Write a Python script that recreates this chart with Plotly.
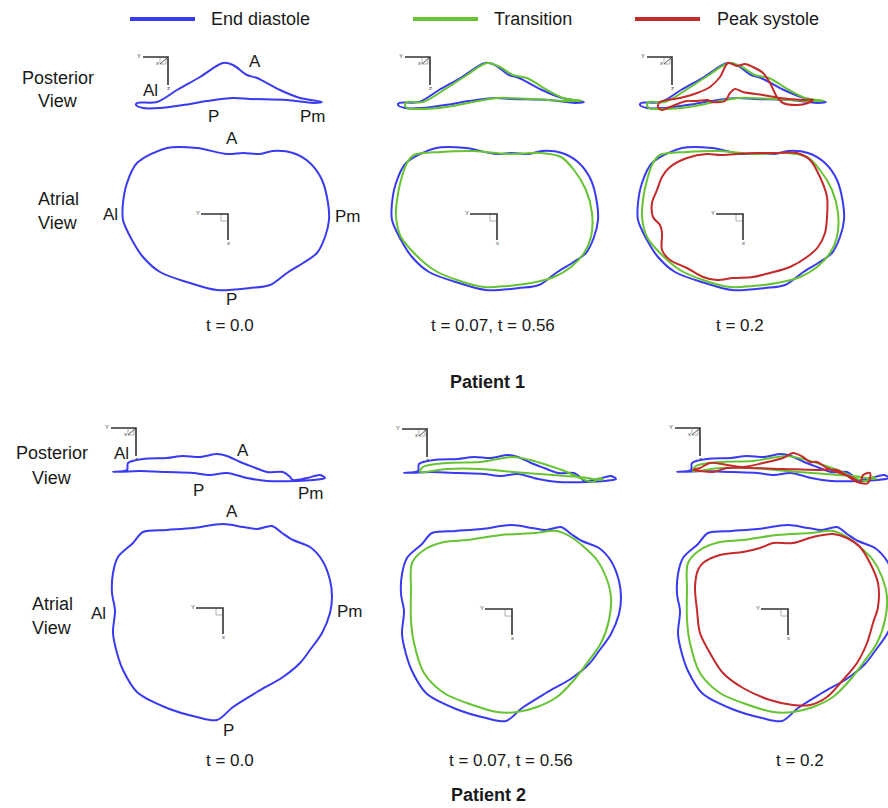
import plotly.graph_objects as go

W, H = 888, 808

# ---------------- text / categories ----------------
series_names = ["End diastole", "Transition", "Peak systole"]
time_labels = ["t = 0.0", "t = 0.07, t = 0.56", "t = 0.2"]
patient_labels = ["Patient 1", "Patient 2"]
view_names = [["Posterior", "View"], ["Atrial", "View"]]
landmark_names = ["A", "P", "Al", "Pm"]

# ---------------- contour data ----------------
# local coordinates relative to each panel's small axis-icon corner, y pointing down
# Patient 1 - posterior view
p1_post_ed_u = [-31, -11, 9, 32, 55, 65, 79, 89, 112, 132, 154, 145, 119, 82, 65, 39, 15, -8, -25, -32]
p1_post_ed_v = [46, 45, 33, 20, 6, 8, 18, 21, 33, 41, 45, 46, 43, 42, 41, 44, 48, 51, 51, 48]
p1_post_tr_u = [-23, -7, 17, 37, 57, 70, 83, 97, 117, 133, 152, 137, 100, 67, 43, 17, -10, -23, -25]
p1_post_tr_v = [45, 45, 31, 18, 6, 10, 18, 21, 33, 41, 44, 44, 42, 41, 45, 50, 52, 51, 47]
p1_post_ps_u = [-12, 8, 25, 38, 48, 56, 65, 73, 81, 91, 98, 105, 111, 125, 136, 141, 131, 108, 91, 71,
                63, 58, 53, 41, 35, 25, 15, 8, -2, -10, -14]
p1_post_ps_v = [45, 41, 36, 30, 20, 6, 9, 7, 10, 16, 26, 40, 46, 48, 46, 43, 43, 41, 38, 35,
                32, 36, 44, 45, 43, 44, 44, 46, 50, 53, 50]
# Patient 1 - atrial view
p1_atr_ed_u = [-91, -61, -31, -1, 15, 32, 45, 65, 82, 94, 100, 101, 97, 89, 75, 59, 42, 22, -11, -38,
               -68, -85, -96, -105, -105, -101]
p1_atr_ed_v = [-51, -66, -66, -60, -61, -60, -63, -61, -51, -34, -11, 6, 23, 39, 49, 59, 71, 74, 76, 69,
               58, 43, 26, 6, -11, -31]
p1_atr_tr_u = [-83, -56, -23, 10, 44, 64, 77, 89, 95, 94, 87, 74, 57, 34, 10, -13, -40, -63, -83, -96,
               -101, -100, -96, -90]
p1_atr_tr_v = [-59, -62, -63, -60, -61, -57, -44, -24, -1, 23, 39, 53, 63, 69, 72, 73, 66, 56, 39, 23,
               3, -14, -34, -51]
p1_atr_ps_u = [-73, -56, -36, -23, -6, 17, 34, 54, 67, 77, 84, 84, 82, 75, 64, 47, 27, 10, -10, -26,
               -40, -56, -73, -81, -81, -83, -90, -91, -86, -81]
p1_atr_ps_v = [-47, -56, -60, -59, -60, -61, -61, -61, -54, -37, -17, 3, 19, 33, 43, 53, 59, 63, 64, 66,
               63, 54, 46, 36, 19, 11, 3, -11, -24, -37]
# Patient 2 - posterior view
p2_post_ed_u = [-23, -9, -8, 7, 31, 47, 64, 81, 91, 104, 117, 131, 147, 154, 157, 171, 184, 189, 177, 161,
                131, 111, 91, 74, 57, 31, 4]
p2_post_ed_v = [44, 42, 35, 31, 30, 28, 29, 26, 28, 34, 39, 44, 44, 49, 52, 50, 47, 50, 52, 53,
                53, 50, 45, 47, 45, 44, 43]
p2_post_tr_u = [-7, -4, 20, 53, 86, 103, 120, 140, 153, 166, 173, 176, 153, 126, 86, 53, 20]
p2_post_tr_v = [43, 38, 34, 33, 28, 31, 36, 43, 49, 53, 49, 51, 48, 46, 43, 40, 40]
p2_post_ps_u = [-7, 0, 10, 27, 43, 63, 83, 93, 103, 110, 117, 127, 140, 153, 160, 163, 170, 168, 157, 137,
                117, 83, 50, 27, 13, 0]
p2_post_ps_v = [42, 40, 35, 37, 39, 35, 30, 25, 29, 34, 34, 40, 45, 50, 55, 47, 45, 55, 54, 42,
                42, 41, 40, 40, 44, 43]
# Patient 2 - atrial view
p2_atr_ed_u = [-80, -56, -30, 0, 20, 34, 49, 59, 70, 87, 99, 107, 109, 107, 99, 87, 77, 60, 34, 10,
               -6, -26, -56, -86, -100, -106, -110, -108, -111, -110, -105, -90]
p2_atr_ed_v = [-76, -78, -80, -84, -81, -79, -82, -75, -68, -61, -48, -28, -11, 5, 25, 42, 55, 69, 84, 99,
               112, 109, 100, 84, 62, 45, 25, 2, -15, -35, -51, -65]
p2_atr_tr_u = [-68, -45, -11, 22, 45, 59, 72, 85, 94, 99, 97, 89, 75, 62, 45, 25, 5, -15, -45, -68,
               -88, -98, -101, -101, -100, -88]
p2_atr_tr_v = [-67, -69, -74, -76, -78, -72, -62, -49, -32, -12, 11, 34, 54, 71, 88, 98, 103, 103, 94, 84,
               64, 34, 11, -19, -46, -59]
p2_atr_ps_u = [-85, -68, -45, -28, -15, 5, 25, 45, 59, 72, 82, 90, 90, 85, 79, 69, 55, 39, 22, 5,
               -18, -45, -65, -78, -88, -91, -93, -90]
p2_atr_ps_v = [-46, -54, -57, -61, -66, -66, -72, -75, -71, -62, -46, -26, -2, 14, 34, 54, 71, 88, 96, 96,
               91, 79, 64, 44, 24, 1, -22, -39]

contours = {
    (0, 0): [(p1_post_ed_u, p1_post_ed_v), (p1_post_tr_u, p1_post_tr_v), (p1_post_ps_u, p1_post_ps_v)],
    (0, 1): [(p1_atr_ed_u, p1_atr_ed_v), (p1_atr_tr_u, p1_atr_tr_v), (p1_atr_ps_u, p1_atr_ps_v)],
    (1, 0): [(p2_post_ed_u, p2_post_ed_v), (p2_post_tr_u, p2_post_tr_v), (p2_post_ps_u, p2_post_ps_v)],
    (1, 1): [(p2_atr_ed_u, p2_atr_ed_v), (p2_atr_tr_u, p2_atr_tr_v), (p2_atr_ps_u, p2_atr_ps_v)],
}

# ---------------- layout / style ----------------
colors = ["#3a3af2", "#66c433", "#c42a2a"]
FONT = "Liberation Sans, Arial, sans-serif"
TXT = "#1a1a1a"

# panel geometry in pixels: (patient, view) -> list per column of (corner_x, corner_y, x0, x1, y0, y1)
panel_geo = {
    (0, 0): [(168, 57, 100, 350, 40, 125), (430, 57, 380, 630, 40, 125), (672, 57, 630, 888, 40, 125)],
    (0, 1): [(228, 214, 100, 355, 132, 305), (497, 214, 365, 625, 132, 305), (743, 214, 625, 888, 132, 305)],
    (1, 0): [(136, 428, 95, 355, 412, 502), (427, 429, 380, 640, 412, 502), (700, 428, 650, 888, 412, 502)],
    (1, 1): [(223, 608, 95, 355, 505, 740), (512, 609, 380, 650, 505, 740), (788, 609, 660, 888, 505, 740)],
}

landmark_pos = {
    (0, 0): [(255, 62), (213, 116), (150, 91), (313, 116)],
    (0, 1): [(232, 138), (231, 299), (110, 214), (348, 216)],
    (1, 0): [(243, 450), (198, 490), (121, 453), (311, 493)],
    (1, 1): [(232, 511), (228, 730), (98, 613), (350, 611)],
}
view_label_pos = {(0, 0): (58, 78, 101), (0, 1): (58, 199, 223), (1, 0): (52, 453, 478), (1, 1): (52, 604, 628)}
time_label_pos = [[(230, 325), (493, 325), (740, 325)], [(230, 760), (511, 760), (800, 760)]]
patient_label_pos = [(487, 382), (488, 795)]
legend_geo = [(130, 195, 209), (413, 478, 492), (635, 700, 715)]
LEGEND_Y = 19

fig = go.Figure()
annotations = []
shapes = []
layout_axes = {}


def paper_ann(text, px, py, size=17, bold=False, xanchor="center"):
    annotations.append(dict(
        text=f"<b>{text}</b>" if bold else text, x=px / W, y=1 - py / H, xref="paper", yref="paper",
        showarrow=False, xanchor=xanchor, yanchor="middle",
        font=dict(family=FONT, size=size, color=TXT)))


ax_n = 0
for (pat, view), cols in panel_geo.items():
    for col, (cx, cy, x0, x1, y0, y1) in enumerate(cols):
        ax_n += 1
        sfx = "" if ax_n == 1 else str(ax_n)
        layout_axes[f"xaxis{sfx}"] = dict(domain=[x0 / W, x1 / W], range=[x0 - cx, x1 - cx],
                                          visible=False, fixedrange=True)
        layout_axes[f"yaxis{sfx}"] = dict(domain=[1 - y1 / H, 1 - y0 / H], range=[y1 - cy, y0 - cy],
                                          visible=False, fixedrange=True)
        xr, yr = f"x{sfx}", f"y{sfx}"
        # small coordinate icon
        if view == 0:
            arm_x, arm_y = [-25, 0, 0], [0, 0, 28]
            fig.add_trace(go.Scatter(x=[-8, -8, -2, -2], y=[1, 7, 7, 1], mode="lines",
                                     line=dict(color="#b0b0b0", width=1), xaxis=xr, yaxis=yr,
                                     showlegend=False, hoverinfo="skip"))
            fig.add_trace(go.Scatter(x=[0, -8], y=[0, 7], mode="lines", line=dict(color="#555", width=1),
                                     xaxis=xr, yaxis=yr, showlegend=False, hoverinfo="skip"))
            icon_labels = [("Y", -29, -1), ("z", 0, 31), ("x", -11, 6)]
        else:
            arm_x, arm_y = [-27, 0, 0], [0, 0, 26]
            fig.add_trace(go.Scatter(x=[-7, -7, 0], y=[0, 7, 7], mode="lines",
                                     line=dict(color="#b0b0b0", width=1), xaxis=xr, yaxis=yr,
                                     showlegend=False, hoverinfo="skip"))
            icon_labels = [("Y", -30, -1), ("x", 0, 29)]
        fig.add_trace(go.Scatter(x=arm_x, y=arm_y, mode="lines", line=dict(color="#333", width=1.6),
                                 xaxis=xr, yaxis=yr, showlegend=False, hoverinfo="skip"))
        for t, lx, ly in icon_labels:
            annotations.append(dict(text=t, x=lx, y=ly, xref=xr, yref=yr, showarrow=False,
                                    font=dict(family=FONT, size=6, color="#444444")))
        # contours: column 0 -> end diastole; 1 -> + transition; 2 -> + peak systole
        for s in range(col + 1):
            u, v = contours[(pat, view)][s]
            fig.add_trace(go.Scatter(
                x=list(u) + [u[0]], y=list(v) + [v[0]], mode="lines",
                line=dict(color=colors[s], width=2, shape="spline", smoothing=0.9),
                xaxis=xr, yaxis=yr, showlegend=False, hoverinfo="skip", name=series_names[s]))

# landmark labels (first column only)
for key, pos in landmark_pos.items():
    for name, (px, py) in zip(landmark_names, pos):
        paper_ann(name, px, py, size=17)

# row labels
for key, (px, py1, py2) in view_label_pos.items():
    paper_ann(view_names[key[1]][0], px, py1, size=18)
    paper_ann(view_names[key[1]][1], px, py2, size=18)

# time labels
for pat in range(2):
    for col in range(3):
        px, py = time_label_pos[pat][col]
        paper_ann(time_labels[col], px, py, size=17)

# patient titles
for pat in range(2):
    px, py = patient_label_pos[pat]
    paper_ann(patient_labels[pat], px, py, size=18, bold=True)

# legend
for s, (lx0, lx1, tx) in enumerate(legend_geo):
    shapes.append(dict(type="line", xref="paper", yref="paper", x0=lx0 / W, x1=lx1 / W,
                       y0=1 - LEGEND_Y / H, y1=1 - LEGEND_Y / H, line=dict(color=colors[s], width=4)))
    paper_ann(series_names[s], tx, LEGEND_Y, size=18, xanchor="left")

fig.update_layout(
    width=W, height=H, margin=dict(l=0, r=0, t=0, b=0),
    paper_bgcolor="white", plot_bgcolor="white",
    annotations=annotations, shapes=shapes, showlegend=False,
    **layout_axes)

fig.write_html("out.html", config={"displayModeBar": False},
               post_script="document.body.style.margin='0';")
